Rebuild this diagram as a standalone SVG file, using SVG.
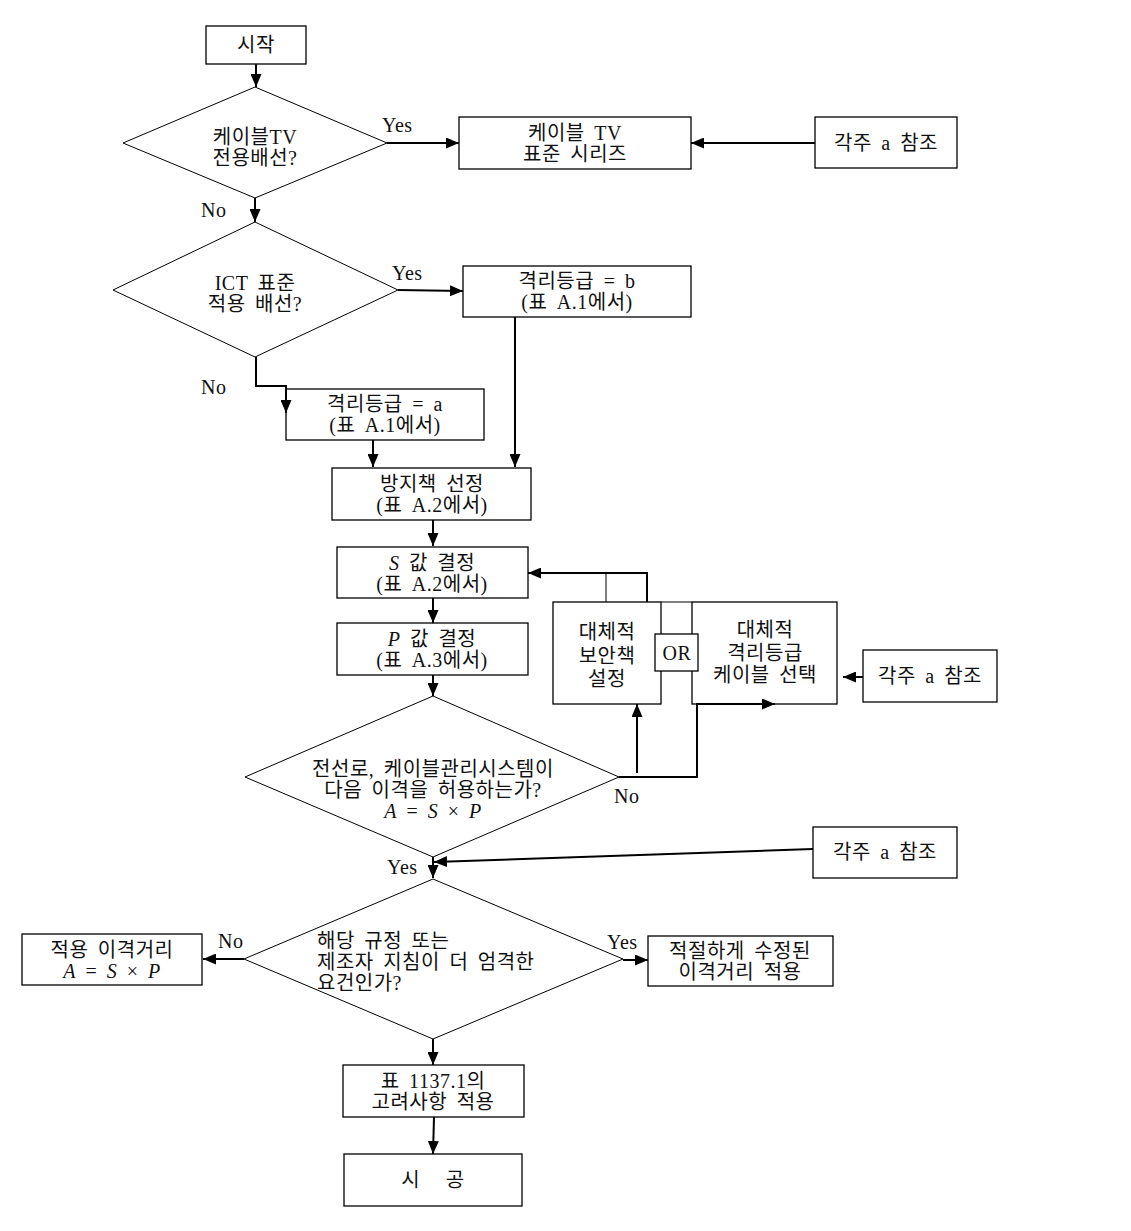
<svg xmlns="http://www.w3.org/2000/svg" width="1131" height="1231" viewBox="0 0 1131 1231">
<style>
.box{fill:#fff;stroke:#000;stroke-width:1.3}
.dia{fill:#fff;stroke:#000;stroke-width:1}
.ln{fill:none;stroke:#000;stroke-width:2}
.thin{fill:none;stroke:#000;stroke-width:1}
text{font-family:"Liberation Serif","Noto Sans CJK KR",serif;font-size:20px;fill:#111;dominant-baseline:central;letter-spacing:0.5px;word-spacing:4px}
.c{text-anchor:middle}
.i{font-style:italic}
</style>
<defs>
<marker id="ah" markerUnits="userSpaceOnUse" markerWidth="13" markerHeight="11" refX="13" refY="5.5" orient="auto">
<path d="M0,0 L13,5.5 L0,11 z" fill="#000"/>
</marker>
</defs>
<rect width="1131" height="1231" fill="#fff"/>
<g id="start"><rect class="box" x="206" y="26" width="100" height="38"/><text class="c" x="256" y="45">시작</text></g>
<g id="d1"><polygon class="dia" points="255,87 387,143 255,198 123,143"/><text class="c" x="255" y="137">케이블TV</text><text class="c" x="255" y="158">전용배선?</text></g>
<g id="tv"><rect class="box" x="459" y="117" width="232" height="52"/><text class="c" x="575" y="133">케이블 TV</text><text class="c" x="575" y="154">표준 시리즈</text></g>
<g id="note1"><rect class="box" x="815" y="117" width="142" height="51"/><text class="c" x="886" y="143">각주 a 참조</text></g>
<g id="d2"><polygon class="dia" points="255,222 398,290 255,357 113,290"/><text class="c" x="255" y="283">ICT 표준</text><text class="c" x="255" y="304">적용 배선?</text></g>
<g id="gradeb"><rect class="box" x="463" y="266" width="228" height="51"/><text class="c" x="577" y="281">격리등급 = b</text><text class="c" x="577" y="302">(표 A.1에서)</text></g>
<g id="gradea"><rect class="box" x="286" y="389" width="198" height="51"/><text class="c" x="385" y="404">격리등급 = a</text><text class="c" x="385" y="425">(표 A.1에서)</text></g>
<g id="prevent"><rect class="box" x="332" y="468" width="199" height="52"/><text class="c" x="432" y="484">방지책 선정</text><text class="c" x="432" y="505">(표 A.2에서)</text></g>
<g id="sval"><rect class="box" x="337" y="547" width="191" height="51"/><text class="c" x="432" y="563"><tspan class="i">S</tspan> 값 결정</text><text class="c" x="432" y="584">(표 A.2에서)</text></g>
<g id="pval"><rect class="box" x="337" y="623" width="191" height="52"/><text class="c" x="432" y="639"><tspan class="i">P</tspan> 값 결정</text><text class="c" x="432" y="660">(표 A.3에서)</text></g>
<g id="alt1"><rect class="box" x="553" y="602" width="108" height="102"/><text class="c" x="607" y="632">대체적</text><text class="c" x="607" y="656">보안책</text><text class="c" x="607" y="679">설정</text></g>
<g id="alt2"><rect class="box" x="692" y="602" width="145" height="102"/><line class="thin" x1="661" y1="602" x2="692" y2="602" stroke-width="1.3"/><text class="c" x="765" y="630">대체적</text><text class="c" x="765" y="653">격리등급</text><text class="c" x="765" y="675">케이블 선택</text></g>
<g id="or"><rect class="box" x="655" y="634" width="43" height="37"/><text class="c" x="677" y="653">OR</text></g>
<g id="note2"><rect class="box" x="863" y="650" width="134" height="52"/><text class="c" x="930" y="676">각주 a 참조</text></g>
<g id="d3"><polygon class="dia" points="433,696 619,777 433,857 245,777"/><text class="c" x="433" y="769">전선로, 케이블관리시스템이</text><text class="c" x="433" y="790">다음 이격을 허용하는가?</text><text class="c" x="433" y="811"><tspan class="i">A</tspan> = <tspan class="i">S</tspan> × <tspan class="i">P</tspan></text></g>
<g id="note3"><rect class="box" x="813" y="827" width="144" height="51"/><text class="c" x="885" y="852">각주 a 참조</text></g>
<g id="d4"><polygon class="dia" points="433,879 623,959 433,1039 244,959"/><text x="317" y="941">해당 규정 또는</text><text x="317" y="962">제조자 지침이 더 엄격한</text><text x="317" y="983">요건인가?</text></g>
<g id="apply"><rect class="box" x="22" y="934" width="180" height="51"/><text class="c" x="112" y="950">적용 이격거리</text><text class="c" x="112" y="971"><tspan class="i">A</tspan> = <tspan class="i">S</tspan> × <tspan class="i">P</tspan></text></g>
<g id="modified"><rect class="box" x="648" y="936" width="185" height="50"/><text class="c" x="740" y="951">적절하게 수정된</text><text class="c" x="740" y="972">이격거리 적용</text></g>
<g id="table"><rect class="box" x="343" y="1065" width="181" height="52"/><text class="c" x="433" y="1081">표 1137.1의</text><text class="c" x="433" y="1102">고려사항 적용</text></g>
<g id="build"><rect class="box" x="344" y="1154" width="178" height="52"/><text class="c" x="433" y="1180" style="word-spacing:20px">시 공</text></g>
<g id="connectors">
<line class="ln" x1="256" y1="64" x2="256" y2="87" marker-end="url(#ah)"/>
<line class="ln" x1="387" y1="143" x2="459" y2="143" marker-end="url(#ah)"/>
<line class="ln" x1="815" y1="143" x2="691" y2="143" marker-end="url(#ah)"/>
<line class="ln" x1="255" y1="198" x2="255" y2="222" marker-end="url(#ah)"/>
<line class="ln" x1="398" y1="290" x2="463" y2="291" marker-end="url(#ah)"/>
<path class="ln" d="M256,357 V386 H286 V413" marker-end="url(#ah)"/>
<line class="ln" x1="515" y1="317" x2="515" y2="467" marker-end="url(#ah)"/>
<line class="ln" x1="373" y1="440" x2="373" y2="467" marker-end="url(#ah)"/>
<line class="ln" x1="433" y1="520" x2="433" y2="546" marker-end="url(#ah)"/>
<line class="ln" x1="433" y1="598" x2="433" y2="623" marker-end="url(#ah)"/>
<line class="ln" x1="433" y1="675" x2="433" y2="696" marker-end="url(#ah)"/>
<path class="ln" d="M647,602 V573 H528" marker-end="url(#ah)"/>
<line class="thin" x1="606" y1="573" x2="606" y2="602"/>
<line class="ln" x1="637" y1="773" x2="637" y2="704" marker-end="url(#ah)"/>
<path class="ln" d="M619,777 H697 V704 H775" marker-end="url(#ah)"/>
<line class="ln" x1="863" y1="677" x2="843" y2="677" marker-end="url(#ah)"/>
<line class="ln" x1="433" y1="857" x2="433" y2="878" marker-end="url(#ah)"/>
<line class="ln" x1="813" y1="849" x2="434" y2="862" marker-end="url(#ah)"/>
<line class="ln" x1="244" y1="959" x2="203" y2="959" marker-end="url(#ah)"/>
<line class="ln" x1="623" y1="960" x2="648" y2="960" marker-end="url(#ah)"/>
<line class="ln" x1="433" y1="1039" x2="433" y2="1065" marker-end="url(#ah)"/>
<line class="ln" x1="434" y1="1117" x2="433" y2="1154" marker-end="url(#ah)"/>
</g>
<g id="labels">
<text x="382" y="125">Yes</text>
<text x="201" y="210">No</text>
<text x="392" y="273">Yes</text>
<text x="201" y="387">No</text>
<text x="614" y="796">No</text>
<text x="387" y="867">Yes</text>
<text x="218" y="941">No</text>
<text x="607" y="942">Yes</text>
</g>
</svg>
